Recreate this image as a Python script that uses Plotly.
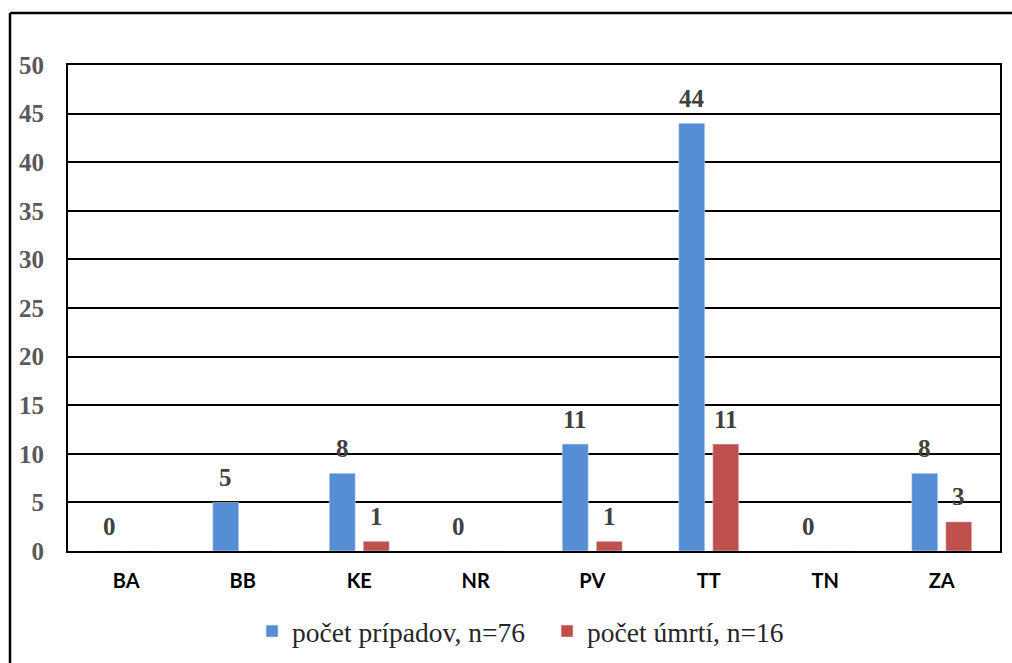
import plotly.graph_objects as go

categories = ["BA", "BB", "KE", "NR", "PV", "TT", "TN", "ZA"]
cases = [0, 5, 8, 0, 11, 44, 0, 8]
deaths = [0, 0, 1, 0, 1, 11, 0, 3]
y_ticks = [0, 5, 10, 15, 20, 25, 30, 35, 40, 45, 50]
name_cases = "počet prípadov, n=76"
name_deaths = "počet úmrtí, n=16"

BLUE = "#558ED5"
RED = "#C0504D"
SERIF = "Liberation Serif, Times New Roman, serif"

W, H = 1012, 663
L, T = 68, 65
PW, PH = 932, 486

fig = go.Figure()
fig.add_trace(go.Bar(x=categories, y=cases, name=name_cases, marker_color=BLUE))
fig.add_trace(go.Bar(x=categories, y=deaths, name=name_deaths, marker_color=RED))

annotations = []
for c, v in zip(categories, cases):
    annotations.append(dict(x=c, y=v, xref="x", yref="y", text=f"<b>{v}</b>",
                            showarrow=False, xshift=-17, yshift=25, yanchor="middle",
                            font=dict(family=SERIF, size=25, color="#404040")))
for c, v in zip(categories, deaths):
    if v != 0:
        annotations.append(dict(x=c, y=v, xref="x", yref="y", text=f"<b>{v}</b>",
                                showarrow=False, xshift=17, yshift=25, yanchor="middle",
                                font=dict(family=SERIF, size=25, color="#404040")))

x_left = (10 - L) / PW
y_top = 1 + (T - 13) / PH
fig.update_layout(
    width=W, height=H,
    margin=dict(l=L, r=W - L - PW, t=T, b=H - T - PH, autoexpand=False),
    paper_bgcolor="white", plot_bgcolor="white",
    barmode="group", bargap=0.416, bargroupgap=0.235,
    annotations=annotations,
    showlegend=True,
    legend=dict(orientation="h", x=0.514, xanchor="center", y=-0.165, yanchor="middle",
                font=dict(family=SERIF, size=27.5, color="#262626"),
                entrywidth=250, entrywidthmode="pixels",
                itemwidth=30, traceorder="normal"),
    shapes=[
        dict(type="line", xref="paper", yref="paper", x0=x_left, x1=1.1, y0=y_top, y1=y_top,
             line=dict(color="black", width=2.5), layer="below"),
        dict(type="line", xref="paper", yref="paper", x0=x_left, x1=x_left, y0=-0.5, y1=y_top,
             line=dict(color="black", width=2.5), layer="below"),
    ],
)
fig.update_yaxes(range=[0, 50], tickvals=y_ticks, ticktext=[f"<b>{t}</b>" for t in y_ticks],
                 showgrid=True, gridcolor="black", gridwidth=2,
                 showline=True, linecolor="black", linewidth=2, mirror=True,
                 zeroline=False, ticks="", ticklabelstandoff=17, automargin=False,
                 tickfont=dict(family=SERIF, size=25, color="#595959"))
fig.update_xaxes(tickvals=categories, ticktext=[f"<b>{c}</b>" for c in categories],
                 showline=True, linecolor="black", linewidth=2, mirror=True,
                 showgrid=False, ticks="", ticklabelstandoff=11, automargin=False,
                 tickfont=dict(family="Lato, Open Sans, sans-serif", size=20, color="black"))

fig.write_html("out.html", config={"displayModeBar": False},
               post_script="document.body.style.margin='0';document.body.style.overflow='hidden';")
